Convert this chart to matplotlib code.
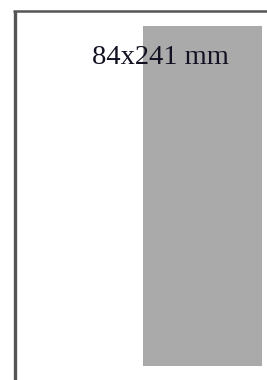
import matplotlib.pyplot as plt

# placeholder image: page frame with a grey block and its size label
label = "84x241 mm"
block_x = [143]
block_w = [119]
block_top = [26]
block_h = [340]

fig = plt.figure(figsize=(2.67, 3.80), dpi=100)
ax = fig.add_axes([0, 0, 1, 1])
ax.set_xlim(0, 267)
ax.set_ylim(380, 0)
ax.axis("off")

# frame lines (left and top)
ax.plot([14.5, 14.5], [11, 380], color="#555555", lw=2.4, solid_capstyle="butt")
ax.plot([13.3, 267], [11, 11], color="#555555", lw=1.8, solid_capstyle="butt")

ax.bar(block_x, block_h, width=block_w, bottom=block_top, align="edge",
       color="#aaaaaa", edgecolor="none")

ax.text(160, 64, label, ha="center", va="baseline", fontsize=20.5,
        family="Liberation Serif", color="#111122")

fig.savefig("out.png", dpi=100)
